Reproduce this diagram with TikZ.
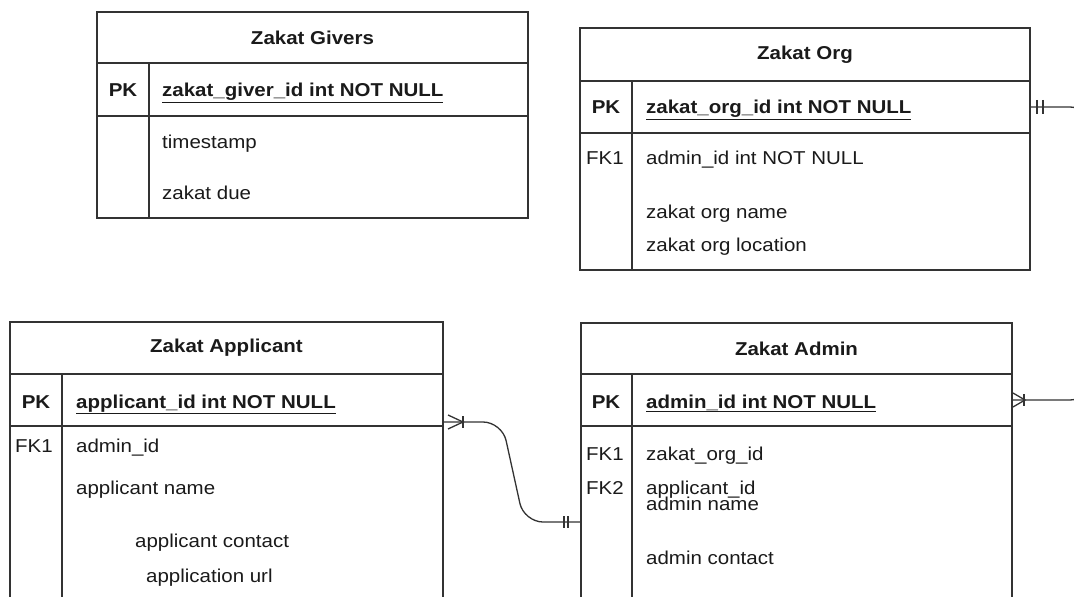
\documentclass[tikz,border=0pt]{standalone}
\usepackage{fontspec}
\setmainfont{Liberation Sans}[FakeStretch=1.1]
\usetikzlibrary{calc}
\definecolor{ink}{HTML}{1A1A1A}
\definecolor{rulegray}{HTML}{333333}

\begin{document}
\begin{tikzpicture}[x=1bp,y=-1bp,
  box/.style={draw=rulegray, line width=1.3bp, inner sep=0pt, outer sep=0pt, anchor=north west},
  ttl/.style={font=\fontsize{18.7}{22}\selectfont\bfseries, text=ink},
  txt/.style={font=\fontsize{18.7}{22}\selectfont, text=ink, anchor=base west, inner sep=0pt},
  pktxt/.style={txt, font=\fontsize{18.7}{22}\selectfont\bfseries},
  key/.style={font=\fontsize{18.7}{22}\selectfont, text=ink, anchor=base, inner sep=0pt},
  pkkey/.style={key, font=\fontsize{18.7}{22}\selectfont\bfseries},
  rule/.style={draw=rulegray, line width=1.3bp},
  conn/.style={draw=rulegray, line width=1.3bp},
  tick/.style={draw=rulegray, line width=1.3bp},
]
\useasboundingbox (0,0) rectangle (1074,597);
\clip (0,0) rectangle (1074,597);

% ---------- Zakat Givers ----------
\node[box, ttl, minimum width=431bp, minimum height=51bp] (gv-h) at (97,12) {Zakat Givers};
\node[box, minimum width=431bp, minimum height=53bp] (gv-pk) at (97,63) {};
\node[box, minimum width=431bp, minimum height=102bp] (gv-b) at (97,116) {};
\draw[rule] (149,63) -- (149,218);
\node[pkkey] (gv-k1) at (123,97) {PK};
\node[pktxt] (gv-f1) at (162,97) {\underline{zakat\_giver\_id int NOT NULL}};
\node[txt] (gv-f2) at (162,149) {timestamp};
\node[txt] (gv-f3) at (162,200) {zakat due};

% ---------- Zakat Org ----------
\node[box, ttl, minimum width=450bp, minimum height=53bp] (og-h) at (580,28) {Zakat Org};
\node[box, minimum width=450bp, minimum height=52bp] (og-pk) at (580,81) {};
\node[box, minimum width=450bp, minimum height=137bp] (og-b) at (580,133) {};
\draw[rule] (632,81) -- (632,270);
\node[pkkey] (og-k1) at (606,114) {PK};
\node[pktxt] (og-f1) at (646,114) {\underline{zakat\_org\_id int NOT NULL}};
\node[key] (og-k2) at (605,165) {FK1};
\node[txt] (og-f2) at (646,165) {admin\_id int NOT NULL};
\node[txt] (og-f3) at (646,219) {zakat org name};
\node[txt] (og-f4) at (646,252) {zakat org location};

% ---------- Zakat Applicant ----------
\node[box, ttl, minimum width=433bp, minimum height=52bp] (ap-h) at (10,322) {Zakat Applicant};
\node[box, minimum width=433bp, minimum height=52bp] (ap-pk) at (10,374) {};
\node[box, minimum width=433bp, minimum height=184bp] (ap-b) at (10,426) {};
\draw[rule] (62,374) -- (62,610);
\node[pkkey] (ap-k1) at (36,408) {PK};
\node[pktxt] (ap-f1) at (76,408) {\underline{applicant\_id int NOT NULL}};
\node[key] (ap-k2) at (34,452) {FK1};
\node[txt] (ap-f2) at (76,452) {admin\_id};
\node[txt] (ap-f3) at (76,494) {applicant name};
\node[txt] (ap-f4) at (135,547) {applicant contact};
\node[txt] (ap-f5) at (146,582) {application url};

% ---------- Zakat Admin ----------
\node[box, ttl, minimum width=431bp, minimum height=51bp] (ad-h) at (581,323) {Zakat Admin};
\node[box, minimum width=431bp, minimum height=52bp] (ad-pk) at (581,374) {};
\node[box, minimum width=431bp, minimum height=184bp] (ad-b) at (581,426) {};
\draw[rule] (632,374) -- (632,610);
\node[pkkey] (ad-k1) at (606,408) {PK};
\node[pktxt] (ad-f1) at (646,408) {\underline{admin\_id int NOT NULL}};
\node[key] (ad-k2) at (605,460) {FK1};
\node[txt] (ad-f2) at (646,460) {zakat\_org\_id};
\node[key] (ad-k3) at (605,494) {FK2};
\node[txt] (ad-f3) at (646,494) {applicant\_id};
\node[txt] (ad-f4) at (646,510) {admin name};
\node[txt] (ad-f5) at (646,564) {admin contact};

% ---------- Relationships ----------
% applicant (one or many) -- admin (exactly one)
\coordinate (ap-out) at ([yshift=-22bp]ap-pk.east);
\coordinate (ad-in) at ([yshift=-4bp]ad-b.west);
\draw[conn, rounded corners=19bp] (ap-out) -- (502,422) -- (524,522) -- (ad-in);
\draw[tick] ($(ap-out)+(5,-7)$) -- ($(ap-out)+(20,0)$) -- ($(ap-out)+(5,7)$);
\draw[tick] ($(ap-out)+(20,-6)$) -- ($(ap-out)+(20,6)$);
\draw[tick] ($(ad-in)+(-17,-6)$) -- ($(ad-in)+(-17,6)$);
\draw[tick] ($(ad-in)+(-13,-6)$) -- ($(ad-in)+(-13,6)$);

% org (exactly one) -- admin (one or many), routed outside on the right
\draw[conn, rounded corners=20bp] (og-pk.east) -- (1090,107) -- (1090,400) -- (ad-pk.east);
\draw[tick] ($(og-pk.east)+(7,-7)$) -- ($(og-pk.east)+(7,7)$);
\draw[tick] ($(og-pk.east)+(13,-7)$) -- ($(og-pk.east)+(13,7)$);
\draw[tick] ($(ad-pk.east)+(1,-7)$) -- ($(ad-pk.east)+(13,0)$) -- ($(ad-pk.east)+(1,7)$);
\draw[tick] ($(ad-pk.east)+(12,-6)$) -- ($(ad-pk.east)+(12,6)$);
\end{tikzpicture}
\end{document}
